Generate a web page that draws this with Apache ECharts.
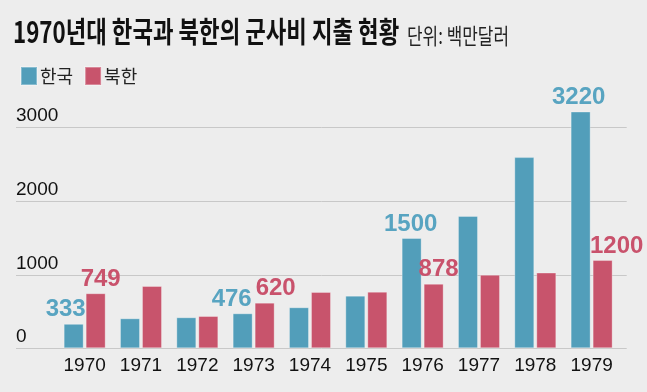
<!DOCTYPE html>
<html><head><meta charset="utf-8">
<script src="https://cdn.jsdelivr.net/npm/echarts@6/dist/echarts.min.js"></script>
<style>html,body{margin:0;padding:0;background:#ededed}#c{width:647px;height:392px}</style>
</head><body><div id="c"></div>
<script>
// ---- data ----
const years = ['1970','1971','1972','1973','1974','1975','1976','1977','1978','1979'];
const south = [333, 408, 422, 476, 558, 716, 1500, 1800, 2600, 3220];
const north = [749, 847, 439, 620, 766, 770, 878, 1000, 1030, 1200];
const labeledYears = ['1970','1973','1976','1979'];
const yTicks = [0, 1000, 2000, 3000];
const seriesNames = ['한국', '북한'];
const titleText = '1970년대 한국과 북한의 군사비 지출 현황';
const unitText = '단위: 백만달러';

// ---- style ----
const BLUE = '#529eba', RED = '#c8546c';
const BLUE_T = '#58a4c1', RED_T = '#c9526c';
const NUM = "'Liberation Sans',Roboto,sans-serif";
const KR = "'Noto Sans CJK KR','Noto Sans',sans-serif";
const labelDx = {
  '한국': {'1970': -8, '1973': -11, '1976': -1, '1979': -2},
  '북한': {'1970': 5, '1973': 11, '1976': 5, '1979': 14}
};
const plotTop = 127.7, plotBottom = 43.7;

function build(name, values, tcolor) {
  return values.map((v, i) => {
    const y = years[i];
    const show = labeledYears.includes(y);
    return {
      value: v,
      label: {
        show: show,
        position: 'top',
        distance: 2,
        offset: [show ? labelDx[name][y] : 0, 0],
        color: tcolor,
        fontFamily: NUM,
        fontWeight: 'bold',
        fontSize: 24
      }
    };
  });
}

const chart = echarts.init(document.getElementById('c'), null, {renderer: 'canvas'});
chart.setOption({
  backgroundColor: '#ededed',
  animation: false,
  legend: {
    left: 15, top: 61,
    itemWidth: 16, itemHeight: 18, itemGap: 11,
    icon: 'rect',
    textStyle: {fontFamily: KR, fontSize: 18, color: '#222', padding: [0, 0, 0, -2]},
    data: seriesNames
  },
  graphic: [
    {type: 'text', x: 13, y: 17, scaleX: 0.77, style: {text: titleText, fontFamily: KR, fontWeight: 'bold', fontSize: 29, fill: '#111', textVerticalAlign: 'top'}},
    {type: 'text', x: 407, y: 25, scaleX: 0.77, style: {text: unitText, fontFamily: KR, fontSize: 22, fill: '#222', textVerticalAlign: 'top'}}
  ],
  grid: [
    {left: 16, right: 20.3, top: plotTop, bottom: plotBottom},
    {left: 56.5, right: 27.2, top: plotTop, bottom: plotBottom}
  ],
  xAxis: [
    {gridIndex: 0, type: 'value', min: 0, max: 1, show: false},
    {gridIndex: 1, type: 'category', data: years,
     axisLine: {show: false}, axisTick: {show: false},
     axisLabel: {interval: 0, margin: 8, fontFamily: NUM, fontSize: 19, color: '#111'}}
  ],
  yAxis: [
    {gridIndex: 0, type: 'value', min: yTicks[0], max: yTicks[yTicks.length - 1], interval: yTicks[1] - yTicks[0],
     axisLine: {show: false}, axisTick: {show: false},
     splitLine: {show: true, lineStyle: {color: '#c8c8c8', width: 1}},
     axisLabel: {inside: true, margin: 0, align: 'left', verticalAlign: 'bottom', padding: [0, 0, 2, 0],
       formatter: v => String(v), fontFamily: NUM, fontSize: 19, color: '#111'}},
    {gridIndex: 1, type: 'value', min: yTicks[0], max: yTicks[yTicks.length - 1], show: false, splitLine: {show: false}}
  ],
  series: [
    {name: seriesNames[0], type: 'bar', xAxisIndex: 1, yAxisIndex: 1, clip: false,
     barWidth: 20, barGap: '10%', itemStyle: {color: BLUE, borderColor: 'rgba(255,255,255,0.3)', borderWidth: 1},
     data: build(seriesNames[0], south, BLUE_T)},
    {name: seriesNames[1], type: 'bar', xAxisIndex: 1, yAxisIndex: 1, clip: false,
     barWidth: 20, barGap: '10%', itemStyle: {color: RED, borderColor: 'rgba(255,255,255,0.3)', borderWidth: 1},
     data: build(seriesNames[1], north, RED_T)}
  ]
});
</script>
</body></html>
